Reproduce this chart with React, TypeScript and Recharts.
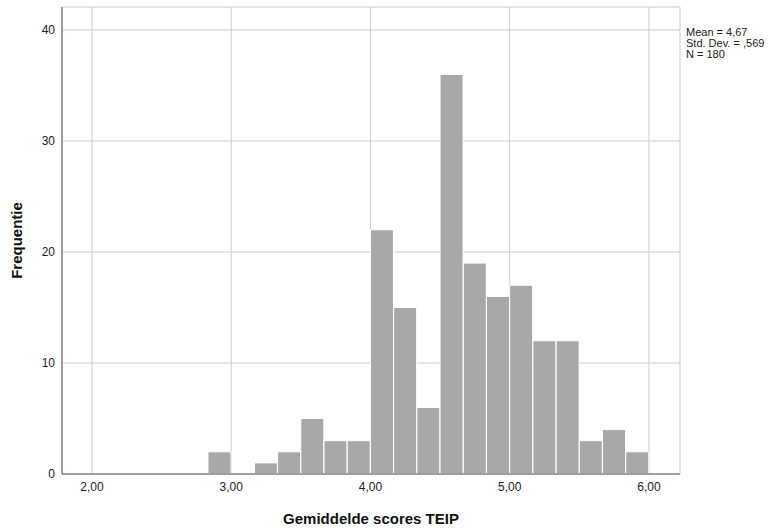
import React from 'react';
import { ComposedChart, Bar, XAxis, YAxis, CartesianGrid, Label, Customized } from 'recharts';

const binCenters = [2.9167, 3.0833, 3.25, 3.4167, 3.5833, 3.75, 3.9167, 4.0833, 4.25, 4.4167, 4.5833, 4.75, 4.9167, 5.0833, 5.25, 5.4167, 5.5833, 5.75, 5.9167];
const frequencies = [2, 0, 1, 2, 5, 3, 3, 22, 15, 6, 36, 19, 16, 17, 12, 12, 3, 4, 2];
const xTicks = [2, 3, 4, 5, 6];
const yTicks = [0, 10, 20, 30, 40];
const statsLines = ['Mean = 4,67', 'Std. Dev. = ,569', 'N = 180'];

const data = binCenters.map((x, i) => ({ x, count: frequencies[i] }));

const FONT = '"Liberation Sans", Arial, sans-serif';

const fmt = (v: number) => v.toFixed(2).replace('.', ',');

const Stats = (props: any) => {
  const off = props.offset || {};
  const left = (off.left ?? 62) + (off.width ?? 618) + 6;
  const top = (off.top ?? 7) + 29;
  return (
    <text x={left} y={top} fontFamily={FONT} fontSize={11} fill="#222">
      {statsLines.map((s, i) => (
        <tspan key={i} x={left} dy={i === 0 ? 0 : 11}>{s}</tspan>
      ))}
    </text>
  );
};

export default function App() {
  return (
    <div style={{ position: 'absolute', left: 0, top: 0, background: '#fff' }}>
      <ComposedChart
        width={771}
        height={529}
        data={data}
        margin={{ top: 7, right: 91, bottom: 0, left: 0 }}
        barCategoryGap={0}
        barGap={0}
      >
        <CartesianGrid stroke="#cccccc" strokeWidth={1} />
        <XAxis
          dataKey="x"
          type="number"
          domain={[1.785, 6.223]}
          ticks={xTicks}
          allowDataOverflow
          tickFormatter={fmt}
          tickLine={false}
          tickSize={5}
          tickMargin={3}
          axisLine={{ stroke: '#a0a0a0', strokeWidth: 2 }}
          tick={{ fontFamily: FONT, fontSize: 12, fill: '#222' }}
          height={55}
        >
          <Label
            value="Gemiddelde scores TEIP"
            position="insideBottom"
            offset={5}
            style={{ fontFamily: FONT, fontSize: 15, fontWeight: 'bold', fill: '#111' }}
          />
        </XAxis>
        <YAxis
          type="number"
          domain={[0, 42.07]}
          ticks={yTicks}
          allowDataOverflow
          tickLine={false}
          tickSize={5}
          tickMargin={2}
          axisLine={{ stroke: '#a0a0a0', strokeWidth: 2 }}
          tick={{ fontFamily: FONT, fontSize: 12, fill: '#222' }}
          width={62}
        >
          <Label
            value="Frequentie"
            angle={-90}
            position="insideLeft"
            offset={17}
            style={{ textAnchor: 'middle', fontFamily: FONT, fontSize: 15, fontWeight: 'bold', fill: '#111' }}
          />
        </YAxis>
        <Bar dataKey="count" fill="#a8a8a8" stroke="#ffffff" strokeWidth={1} isAnimationActive={false} />
        <Customized component={Stats} />
      </ComposedChart>
    </div>
  );
}
